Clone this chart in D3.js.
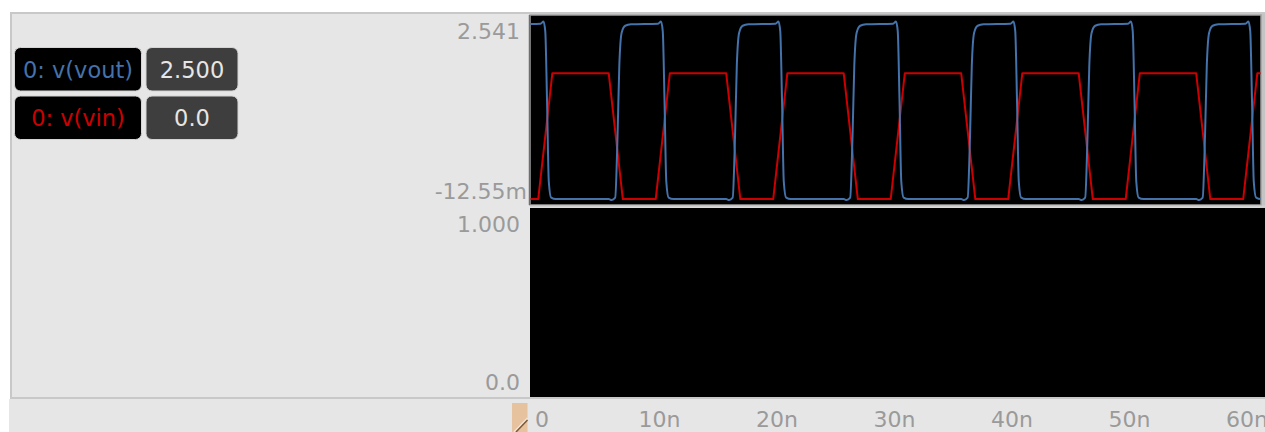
<!DOCTYPE html>
<html>
<head>
<meta charset="utf-8">
<script src="https://cdn.jsdelivr.net/npm/d3@7/dist/d3.min.js"></script>
<style>
html,body{margin:0;padding:0;background:#ffffff;}
svg{display:block;font-family:"DejaVu Sans",sans-serif;}
</style>
</head>
<body>
<svg id="chart" width="1265" height="432"></svg>
<script>
// ---------------- data ----------------
const xTicks = [0, 10, 20, 30, 40, 50, 60];               // ns
const xTickLabels = ["0", "10n", "20n", "30n", "40n", "50n", "60n"];
const xDomain = [0, 62.3];                                  // ns

const upperYDomain = [-0.01255, 2.541];
const upperYLabels = ["2.541", "-12.55m"];
const lowerYDomain = [0, 1];
const lowerYLabels = ["1.000", "0.0"];

const seriesNames = ["0: v(vout)", "0: v(vin)"];
const cursorValues = ["2.500", "0.0"];

// v(vin) : time (ns) / value (V)
const vinTime = [0, 0.7, 1.9, 6.7, 7.9, 10.7, 11.9, 16.7, 17.9, 20.7, 21.9, 26.7, 27.9,
  30.7, 31.9, 36.7, 37.9, 40.7, 41.9, 46.7, 47.9, 50.7, 51.9, 56.7, 57.9, 60.7, 61.9, 62.3];
const vinValue = [0, 0, 1.8, 1.8, 0, 0, 1.8, 1.8, 0, 0, 1.8, 1.8, 0,
  0, 1.8, 1.8, 0, 0, 1.8, 1.8, 0, 0, 1.8, 1.8, 0, 0, 1.8, 1.8];

// v(vout) : time (ns) / value (V)
const voutTime = [
  0, 0.9, 1.15, 1.3, 1.45, 1.6, 1.8, 2.2, 6.7, 6.95, 7.25, 7.45, 7.6, 7.8, 8.1, 8.6,
  10.9, 11.15, 11.3, 11.45, 11.6, 11.8, 12.2, 16.7, 16.95, 17.25, 17.45, 17.6, 17.8, 18.1, 18.6,
  20.9, 21.15, 21.3, 21.45, 21.6, 21.8, 22.2, 26.7, 26.95, 27.25, 27.45, 27.6, 27.8, 28.1, 28.6,
  30.9, 31.15, 31.3, 31.45, 31.6, 31.8, 32.2, 36.7, 36.95, 37.25, 37.45, 37.6, 37.8, 38.1, 38.6,
  40.9, 41.15, 41.3, 41.45, 41.6, 41.8, 42.2, 46.7, 46.95, 47.25, 47.45, 47.6, 47.8, 48.1, 48.6,
  50.9, 51.15, 51.3, 51.45, 51.6, 51.8, 52.2, 56.7, 56.95, 57.25, 57.45, 57.6, 57.8, 58.1, 58.6,
  60.9, 61.15, 61.3, 61.45, 61.6, 61.8, 62.2, 62.3];
const voutValue = [
  2.505, 2.51, 2.541, 2.40, 1.40, 0.25, 0.02, 0.0, 0.0, -0.0125, 0.02, 0.9, 1.9, 2.38, 2.48, 2.50,
  2.51, 2.541, 2.40, 1.40, 0.25, 0.02, 0.0, 0.0, -0.0125, 0.02, 0.9, 1.9, 2.38, 2.48, 2.50,
  2.51, 2.541, 2.40, 1.40, 0.25, 0.02, 0.0, 0.0, -0.0125, 0.02, 0.9, 1.9, 2.38, 2.48, 2.50,
  2.51, 2.541, 2.40, 1.40, 0.25, 0.02, 0.0, 0.0, -0.0125, 0.02, 0.9, 1.9, 2.38, 2.48, 2.50,
  2.51, 2.541, 2.40, 1.40, 0.25, 0.02, 0.0, 0.0, -0.0125, 0.02, 0.9, 1.9, 2.38, 2.48, 2.50,
  2.51, 2.541, 2.40, 1.40, 0.25, 0.02, 0.0, 0.0, -0.0125, 0.02, 0.9, 1.9, 2.38, 2.48, 2.50,
  2.51, 2.541, 2.40, 1.40, 0.25, 0.02, 0.0, 0.0];

// ---------------- drawing ----------------
const BLUE = "#4472aa", RED = "#cc0000", LABEL = "#9a9a9a";
const svg = d3.select("#chart");

// panel
svg.append("rect").attr("x", 11).attr("y", 13).attr("width", 1262).attr("height", 385)
  .attr("fill", "#e6e6e6").attr("stroke", "#c8c8c8").attr("stroke-width", 2);
// bottom strip (x axis area)
svg.append("rect").attr("x", 9).attr("y", 399).attr("width", 1256).attr("height", 33)
  .attr("fill", "#e6e6e6");

const x = d3.scaleLinear().domain(xDomain).range([530, 1262]);
const yU = d3.scaleLinear().domain(upperYDomain).range([200, 21.5]);
const yL = d3.scaleLinear().domain(lowerYDomain).range([391.5, 215]);

// graph backgrounds
svg.append("rect").attr("x", 530).attr("y", 208).attr("width", 735).attr("height", 189).attr("fill", "#000");
svg.append("rect").attr("x", 1260).attr("y", 14).attr("width", 5).attr("height", 194).attr("fill", "#c4c4c4");
svg.append("rect").attr("x", 530).attr("y", 15).attr("width", 731).attr("height", 190)
  .attr("fill", "#000").attr("stroke", "#a0a0a0").attr("stroke-width", 1.5);
svg.append("line").attr("x1", 530).attr("x2", 1265).attr("y1", 206.5).attr("y2", 206.5)
  .attr("stroke", "#d0d0d0").attr("stroke-width", 2);
svg.append("line").attr("x1", 529.5).attr("x2", 529.5).attr("y1", 15).attr("y2", 205)
  .attr("stroke", "#6e6e6e").attr("stroke-width", 1.5);

// clip for traces
svg.append("clipPath").attr("id", "clipU").append("rect")
  .attr("x", 530.5).attr("y", 16).attr("width", 730).attr("height", 188);

const line = d3.line().x(d => x(d[0])).y(d => yU(d[1])).curve(d3.curveMonotoneX);
const vinPts = vinTime.map((t, i) => [t, vinValue[i]]);
const voutPts = voutTime.map((t, i) => [t, voutValue[i]]);
const traces = svg.append("g").attr("clip-path", "url(#clipU)");
traces.append("path").attr("d", d3.line().x(d => x(d[0])).y(d => yU(d[1]))(vinPts))
  .attr("fill", "none").attr("stroke", RED).attr("stroke-width", 2).attr("stroke-linejoin", "round");
traces.append("path").attr("d", line(voutPts))
  .attr("fill", "none").attr("stroke", BLUE).attr("stroke-width", 2).attr("stroke-linejoin", "round");

// y labels
const yLab = svg.append("g").attr("font-size", 22).attr("fill", LABEL).attr("text-anchor", "end");
yLab.append("text").attr("x", 520).attr("y", yU(upperYDomain[1]) + 17.5).text(upperYLabels[0]);
yLab.append("text").attr("x", 527).attr("y", yU(upperYDomain[0]) - 1.5).text(upperYLabels[1]);
yLab.append("text").attr("x", 520).attr("y", yL(lowerYDomain[1]) + 16.7).text(lowerYLabels[0]);
yLab.append("text").attr("x", 520).attr("y", yL(lowerYDomain[0]) - 1.5).text(lowerYLabels[1]);

// x labels
svg.append("g").attr("font-size", 22).attr("fill", LABEL).attr("text-anchor", "middle")
  .selectAll("text").data(xTicks).join("text")
  .attr("x", d => x(d) + 12).attr("y", 427).text((d, i) => xTickLabels[i]);

// cursor marker
svg.append("rect").attr("x", 512).attr("y", 403).attr("width", 15.5).attr("height", 29).attr("fill", "#e6c29e");
svg.append("line").attr("x1", 527.5).attr("y1", 418).attr("x2", 514).attr("y2", 432)
  .attr("stroke", "#f6e6d6").attr("stroke-width", 1.5);
svg.append("line").attr("x1", 527.5).attr("y1", 420).attr("x2", 516).attr("y2", 432)
  .attr("stroke", "#7a5a3a").attr("stroke-width", 1.5);

// legend
const legendColors = [BLUE, RED];
const rowsY = [47.5, 96];
const leg = svg.append("g").attr("font-size", 22.5);
seriesNames.forEach((name, i) => {
  const y0 = rowsY[i];
  leg.append("rect").attr("x", 14.5).attr("y", y0).attr("width", 127).attr("height", 43.5)
    .attr("rx", 6).attr("fill", "#000").attr("stroke", "#d4d4d4").attr("stroke-width", 1);
  leg.append("rect").attr("x", 146).attr("y", y0).attr("width", 92).attr("height", 43.5)
    .attr("rx", 6).attr("fill", "#3e3e3e").attr("stroke", "#d4d4d4").attr("stroke-width", 1);
  leg.append("text").attr("x", 78).attr("y", y0 + 30).attr("text-anchor", "middle")
    .attr("fill", legendColors[i]).text(name);
  leg.append("text").attr("x", 192).attr("y", y0 + 30).attr("text-anchor", "middle")
    .attr("fill", "#e6e6e6").text(cursorValues[i]);
});
</script>
</body>
</html>
